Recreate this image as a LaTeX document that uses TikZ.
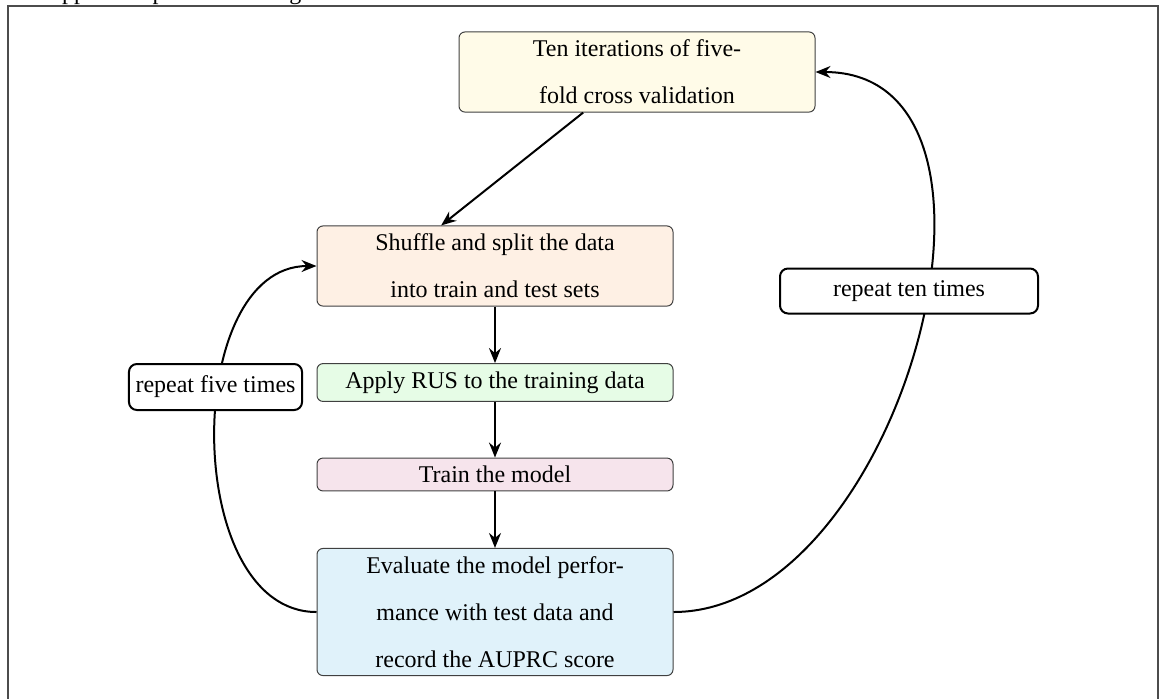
\documentclass[tikz,border=0pt]{standalone}
\usepackage{fontspec}
\setmainfont{Liberation Serif}
\usetikzlibrary{arrows.meta}
\definecolor{iterfill}{HTML}{FFFBE8}
\definecolor{splitfill}{HTML}{FEF0E4}
\definecolor{rusfill}{HTML}{E6FCE6}
\definecolor{trainfill}{HTML}{F6E4EC}
\definecolor{evalfill}{HTML}{E0F2FA}
\tikzset{
  stagebox/.style={draw=black!75, line width=0.5pt, rounded corners=3pt,
    minimum width=178pt, inner sep=4pt, align=center,
    font=\fontsize{12pt}{23.5pt}\selectfont},
  loopnote/.style={draw=black, line width=1pt, rounded corners=4pt, fill=white,
    inner xsep=3.3pt, inner ysep=6pt, font=\fontsize{12pt}{14pt}\selectfont},
  flow/.style={line width=1pt, -{Stealth[length=7.5pt,width=6pt,inset=2.5pt]}},
  framebox/.style={draw=black!70, line width=0.8pt},
}
\begin{document}
\begin{tikzpicture}[x=0.5pt,y=-0.5pt]
\useasboundingbox (0,0) rectangle (1160,698);
\clip (0,0) rectangle (1160,698);

% running text of the page above the figure frame
\node[anchor=base west, inner sep=0pt, font=\fontsize{12pt}{14pt}\selectfont]
  (lead) at (51,-0.5) {applied in phase one are given};

% figure frame
\draw[framebox] (8,6) rectangle (1158,760);

% pipeline stages
\node[stagebox, fill=iterfill]  (iter)  at (637,72)    {Ten iterations of five-\\fold cross validation};
\node[stagebox, fill=splitfill] (split) at (495,266)   {Shuffle and split the data\\into train and test sets};
\node[stagebox, fill=rusfill]   (rus)   at (495,382.5) {Apply RUS to the training data};
\node[stagebox, fill=trainfill] (train) at (495,474.5) {Train the model};
\node[stagebox, fill=evalfill]  (eval)  at (495,612)   {Evaluate the model perfor-\\mance with test data and\\record the AUPRC score};

% forward flow
\draw[flow] (iter.217) -- (split.143);
\draw[flow] (split) -- (rus);
\draw[flow] (rus) -- (train);
\draw[flow] (train) -- (eval);

% repetition loops
\draw[flow] (eval.west) to[out=180,in=180] (split.west);
\draw[flow] (eval.east) to[out=0,in=0,looseness=1.05] (iter.east);

\node[loopnote, minimum width=86.5pt] (five) at (215.5,387) {repeat five times};
\node[loopnote, minimum width=129pt]  (ten)  at (909,291)   {repeat ten times};
\end{tikzpicture}
\end{document}
